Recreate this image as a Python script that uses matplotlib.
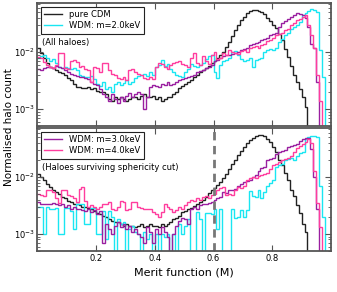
import numpy as np
import matplotlib
matplotlib.use("Agg")
import matplotlib.pyplot as plt
from matplotlib.lines import Line2D

# bin edges for merit function M (100 bins of 0.01)
edges = np.linspace(0.0, 1.0, 101)
scale = 1e-4  # values below are in units of 1e-4

labels = ["pure CDM", "WDM: m=2.0keV", "WDM: m=3.0keV", "WDM: m=4.0keV"]
colors = ["#222222", "#19e6f2", "#9a1fa0", "#ff3d9e"]

# ---------------- top panel: all haloes ----------------
cdm_all = [120, 95, 78, 65, 55, 52, 48, 45, 43, 40,
           35, 32, 28, 24, 24, 23, 23, 24, 22, 23,
           21, 20, 20, 18, 15, 14, 16, 15, 16, 15,
           14, 15, 16, 16, 15, 17, 18, 16, 16, 17,
           15, 16, 14, 15, 16, 16, 18, 20, 23, 25,
           27, 30, 32, 36, 40, 45, 48, 52, 58, 64,
           70, 78, 88, 100, 125, 150, 190, 240, 300, 360,
           420, 480, 520, 550, 550, 530, 500, 460, 400, 350,
           300, 260, 210, 160, 115, 82, 56, 40, 30, 22,
           16, 11, 0, 0, 0, 0, 0, 0, 0, 0]
wdm2_all = [78, 85, 90, 80, 70, 75, 65, 55, 52, 55,
            52, 50, 53, 48, 40, 38, 37, 36, 38, 33,
            28, 25, 30, 22, 24, 20, 28, 30, 26, 29,
            32, 28, 30, 35, 38, 40, 42, 38, 45, 40,
            55, 60, 72, 58, 62, 50, 45, 40, 38, 36,
            45, 50, 62, 58, 55, 60, 65, 75, 85, 90,
            45, 35, 60, 70, 72, 80, 100, 105, 90, 75,
            70, 72, 80, 55, 72, 75, 80, 100, 110, 115,
            110, 120, 150, 170, 200, 220, 250, 270, 300, 340,
            450, 480, 520, 580, 550, 500, 110, 36, 0, 0]
wdm3_all = [50, 48, 52, 55, 55, 52, 56, 55, 52, 48,
            45, 42, 40, 38, 36, 37, 35, 33, 30, 28,
            26, 22, 18, 16, 14, 18, 15, 13, 16, 14,
            17, 19, 16, 18, 20, 18, 10, 16, 24, 26,
            25, 24, 28, 26, 30, 26, 28, 30, 32, 34,
            35, 36, 38, 40, 44, 46, 48, 52, 55, 60,
            70, 72, 80, 85, 88, 90, 92, 95, 100, 110,
            115, 120, 135, 140, 145, 150, 165, 170, 180, 200,
            210, 220, 280, 320, 350, 380, 420, 450, 480, 460,
            450, 400, 280, 140, 120, 30, 0, 0, 0, 0]
wdm4_all = [82, 80, 67, 60, 55, 52, 60, 96, 96, 52,
            50, 70, 72, 68, 55, 58, 50, 48, 30, 55,
            52, 45, 63, 64, 48, 42, 40, 35, 33, 36,
            32, 48, 50, 45, 42, 40, 35, 33, 36, 34,
            55, 65, 62, 55, 50, 60, 65, 68, 70, 62,
            60, 55, 80, 96, 65, 60, 85, 70, 62, 90,
            100, 75, 80, 95, 88, 108, 100, 95, 92, 105,
            110, 100, 120, 125, 130, 120, 135, 140, 155, 165,
            180, 200, 210, 220, 240, 250, 300, 330, 360, 380,
            410, 450, 300, 200, 120, 40, 14, 0, 0, 0]

# ---------------- bottom panel: sphericity cut ----------------
cdm_cut = [115, 100, 88, 76, 66, 60, 55, 50, 45, 42,
           38, 36, 34, 33, 32, 30, 30, 29, 27, 25,
           23, 22, 21, 20, 18, 17, 16, 16, 15, 14,
           15, 14, 14, 13, 14, 15, 13, 14, 15, 14,
           14, 13, 15, 14, 15, 16, 18, 19, 21, 24,
           25, 27, 29, 31, 33, 36, 40, 45, 52, 58,
           65, 72, 82, 95, 115, 140, 170, 200, 240, 290,
           340, 390, 440, 490, 530, 550, 550, 520, 470, 410,
           340, 270, 200, 160, 120, 90, 60, 46, 32, 23,
           15, 11, 0, 0, 0, 0, 0, 0, 0, 0]
wdm2_cut = [30, 30, 10, 30, 28, 27, 29, 10, 10, 29,
            29, 25, 12, 33, 33, 33, 15, 15, 29, 29,
            10, 10, 25, 8, 25, 20, 0, 18, 15, 16,
            0, 12, 14, 11, 10, 0, 11, 8, 10, 0,
            10, 0, 10, 9, 10, 0, 10, 0, 15, 10,
            14, 18, 0, 0, 24, 18, 0, 23, 23, 22,
            28, 12, 28, 0, 0, 0, 28, 19, 20, 26,
            20, 26, 56, 46, 45, 60, 42, 55, 70, 80,
            90, 150, 160, 170, 200, 210, 220, 200, 230, 260,
            270, 460, 500, 520, 520, 500, 70, 20, 0, 0]
wdm3_cut = [36, 34, 34, 33, 34, 35, 33, 32, 34, 30,
            32, 28, 30, 27, 28, 26, 25, 27, 24, 26,
            22, 25, 7, 15, 12, 10, 14, 16, 13, 15,
            12, 14, 11, 12, 10, 9, 7, 13, 11, 7,
            12, 10, 13, 11, 9, 0, 10, 14, 17, 19,
            18, 15, 28, 30, 28, 32, 34, 33, 35, 36,
            40, 42, 45, 55, 52, 60, 58, 62, 70, 75,
            82, 85, 90, 100, 110, 130, 145, 150, 200, 210,
            220, 250, 270, 290, 300, 330, 350, 360, 380, 430,
            460, 480, 490, 310, 100, 27, 0, 0, 0, 0]
wdm4_cut = [50, 48, 46, 58, 60, 55, 42, 35, 60, 58,
            48, 46, 42, 36, 62, 66, 38, 30, 32, 30,
            28, 30, 33, 34, 36, 28, 26, 30, 38, 36,
            26, 28, 36, 37, 30, 29, 28, 27, 28, 24,
            22, 20, 24, 33, 30, 28, 24, 26, 30, 28,
            32, 36, 40, 38, 42, 40, 44, 46, 43, 48,
            50, 60, 65, 68, 48, 50, 48, 60, 68, 65,
            70, 90, 95, 100, 98, 105, 110, 115, 120, 140,
            160, 170, 185, 200, 210, 220, 230, 280, 320, 350,
            380, 420, 460, 400, 130, 35, 13, 0, 0, 0]

cut_value = 0.6
xticks = [0.2, 0.4, 0.6, 0.8]

plt.rcParams['font.family'] = ['DejaVu Sans']
fig = plt.figure(figsize=(3.37, 2.92), dpi=100)
ax1 = fig.add_axes([0.111, 0.568, 0.871, 0.421])
ax2 = fig.add_axes([0.111, 0.140, 0.871, 0.421])


def draw(ax, series, idx, text, legidx):
    for s, i in zip(series, idx):
        ax.stairs(np.array(s) * scale, edges, baseline=None,
                  color=colors[i], lw=1.0)
    ax.set_yscale('log')
    ax.set_xlim(0.0, 1.0)
    ax.set_ylim(5e-4, 7.2e-2)
    ax.set_xticks(xticks)
    ax.tick_params(which='both', direction='in', top=True, right=True,
                   labelsize=6, color='#555555', pad=2)
    ax.tick_params(which='major', length=4, width=0.8)
    ax.tick_params(which='minor', length=2, width=0.6)
    for sp in ax.spines.values():
        sp.set_linewidth(1.3)
        sp.set_color('#555555')
    proxies = [Line2D([], [], color=colors[i], lw=1.0) for i in legidx]
    leg = ax.legend(proxies, [labels[i] for i in legidx], loc='upper left',
                    fontsize=6, fancybox=False, framealpha=1,
                    edgecolor='#222222', handlelength=2.2,
                    borderaxespad=0.4, borderpad=0.4, labelspacing=0.3)
    leg.get_frame().set_linewidth(0.8)
    ax.text(0.015, 0.64, text, transform=ax.transAxes, fontsize=6,
            va='bottom', ha='left')


draw(ax1, [cdm_all, wdm2_all, wdm3_all, wdm4_all], [0, 1, 2, 3],
     "(All haloes)", [0, 1])
draw(ax2, [cdm_cut, wdm2_cut, wdm3_cut, wdm4_cut], [0, 1, 2, 3],
     "(Haloes surviving sphericity cut)", [2, 3])
ax1.tick_params(labelbottom=False)

ax2.axvline(cut_value, color='#777777', lw=2.0, ls=(0, (3, 2)))
ax2.set_xlabel("Merit function (M)", fontsize=8, labelpad=3)
fig.text(0.027, 0.565, "Normalised halo count", rotation=90, fontsize=7.5,
         ha='center', va='center')

fig.savefig("out.png", dpi=100)
